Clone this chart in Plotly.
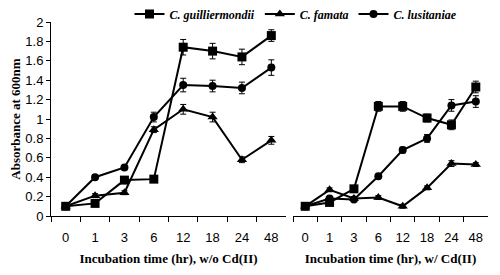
import plotly.graph_objects as go

hours = ["0", "1", "3", "6", "12", "18", "24", "48"]

# without Cd(II)
gu_wo = [0.10, 0.13, 0.37, 0.38, 1.74, 1.70, 1.64, 1.86]
fa_wo = [0.10, 0.21, 0.24, 0.89, 1.10, 1.02, 0.58, 0.78]
lu_wo = [0.10, 0.40, 0.50, 1.02, 1.35, 1.34, 1.32, 1.53]
gu_wo_err = [0.02, 0.03, 0.03, 0.03, 0.08, 0.08, 0.08, 0.06]
fa_wo_err = [0.02, 0.02, 0.02, 0.03, 0.05, 0.05, 0.03, 0.04]
lu_wo_err = [0.02, 0.02, 0.02, 0.05, 0.07, 0.06, 0.06, 0.08]

# with Cd(II)
gu_w = [0.10, 0.14, 0.28, 1.13, 1.13, 1.01, 0.94, 1.33]
fa_w = [0.10, 0.27, 0.18, 0.19, 0.10, 0.29, 0.54, 0.53]
lu_w = [0.10, 0.18, 0.17, 0.41, 0.68, 0.80, 1.14, 1.18]
gu_w_err = [0.02, 0.02, 0.02, 0.05, 0.05, 0.04, 0.05, 0.06]
fa_w_err = [0.01, 0.02, 0.02, 0.02, 0.02, 0.02, 0.03, 0.02]
lu_w_err = [0.01, 0.02, 0.02, 0.02, 0.03, 0.04, 0.06, 0.06]

names = ["C. guilliermondii", "C. famata", "C. lusitaniae"]
symbols = ["square", "triangle-up", "circle"]
sizes = [9, 9, 8]

fig = go.Figure()

panels = [
    ("x", "y", [gu_wo, fa_wo, lu_wo], [gu_wo_err, fa_wo_err, lu_wo_err], True),
    ("x2", "y2", [gu_w, fa_w, lu_w], [gu_w_err, fa_w_err, lu_w_err], False),
]
for xa, ya, series, errs, show in panels:
    for i in range(3):
        fig.add_trace(go.Scatter(
            x=hours, y=series[i], xaxis=xa, yaxis=ya,
            mode="lines+markers", name=names[i], showlegend=show,
            legendgroup=names[i],
            line=dict(color="black", width=2),
            marker=dict(symbol=symbols[i], size=sizes[i], color="black"),
            error_y=dict(type="data", array=errs[i], color="black",
                         thickness=1, width=3),
        ))

tickfont = dict(family="Liberation Sans, Arial", size=13, color="black")
titlefont = dict(family="Liberation Serif, Times New Roman", size=13, color="black")

xcommon = dict(type="category", categoryorder="array", categoryarray=hours,
               showline=True, linecolor="black", linewidth=1,
               ticks="outside", tickson="boundaries", ticklen=5,
               tickcolor="black", showgrid=False, zeroline=False,
               tickfont=tickfont, ticklabelstandoff=9, automargin=False,
               range=[-0.5, 7.5])

# page body has an 8px default margin, so the figure is 8px smaller
fig.update_layout(
    width=492, height=267,
    margin=dict(l=43, r=12, t=14, b=59, autoexpand=False),
    paper_bgcolor="white", plot_bgcolor="white",
    xaxis=dict(domain=[0, 0.5378], anchor="y",
               title=dict(text="<b>Incubation time (hr), w/o Cd(II)</b>",
                          font=titlefont, standoff=10),
               **xcommon),
    xaxis2=dict(domain=[0.5538, 1], anchor="y2",
                title=dict(text="<b>Incubation time (hr), w/ Cd(II)</b>",
                           font=titlefont, standoff=10),
                **xcommon),
    yaxis=dict(range=[0, 2], dtick=0.2, showline=True, linecolor="black",
               linewidth=1, ticks="outside", ticklen=4, tickcolor="black",
               showgrid=False, zeroline=False, tickfont=tickfont,
               automargin=False,
               title=dict(text="<b>Absorbance at 600nm</b>", font=titlefont,
                          standoff=6)),
    yaxis2=dict(range=[0, 2], anchor="x2", showline=False, showticklabels=False,
                ticks="", showgrid=False, zeroline=False, matches="y",
                automargin=False),
    legend=dict(orientation="h", x=0.5606, xanchor="center", y=1.041,
                yanchor="middle",
                font=dict(family="Liberation Serif, Times New Roman", size=12,
                          color="black", style="italic", weight="bold"),
                itemwidth=30, bgcolor="rgba(0,0,0,0)"),
)

fig.write_html("out.html")
